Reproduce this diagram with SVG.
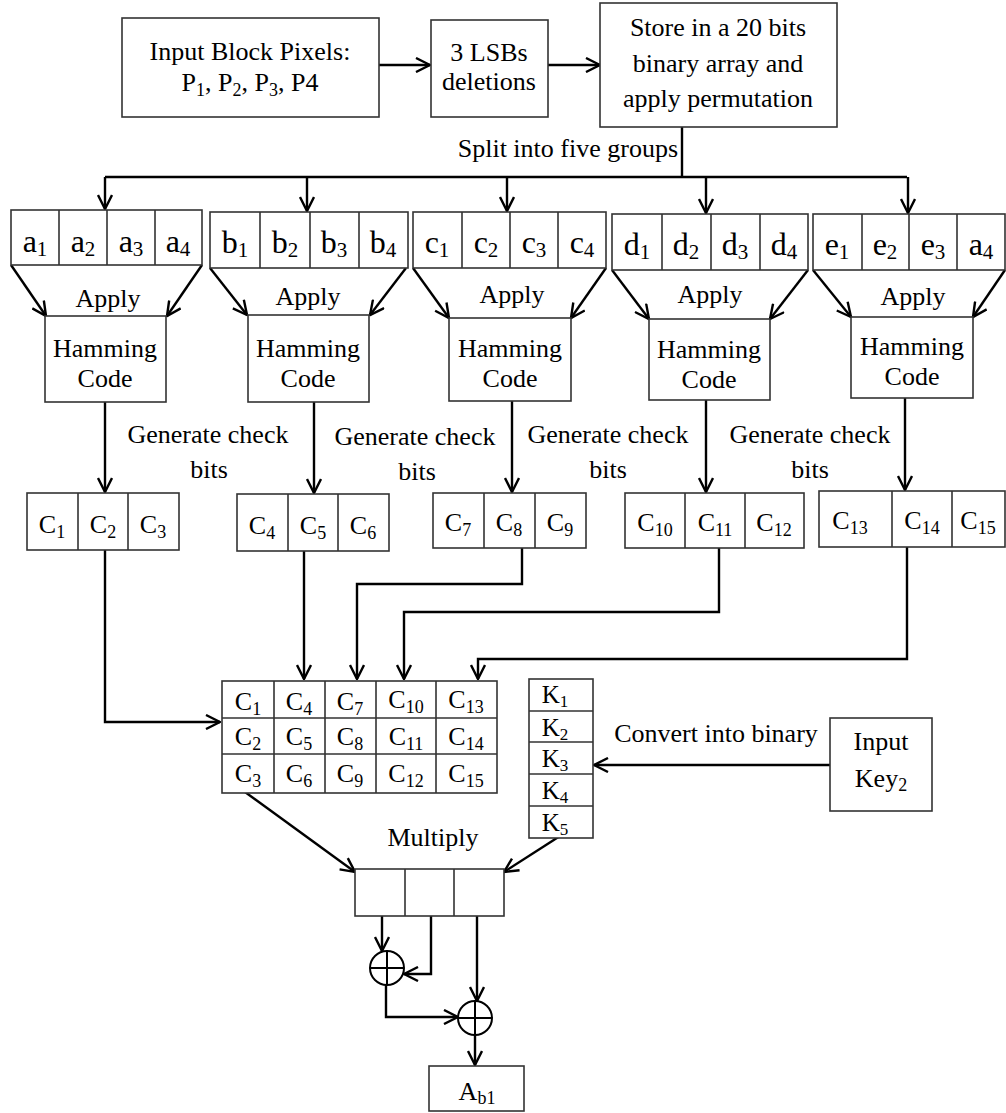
<svg xmlns="http://www.w3.org/2000/svg" width="1006" height="1113" viewBox="0 0 1006 1113">
<style>
.box{fill:#fff;stroke:#333;stroke-width:1.6}
.ln{fill:none;stroke:#000;stroke-width:2.4}
.a{marker-end:url(#ah)}
text{font-family:'Liberation Serif','Times New Roman',serif;font-size:26px;fill:#000;text-anchor:middle}
.g{font-size:32px}
.gs{font-size:21px}
.s{font-size:18px}
.k{font-size:25px}
.ks{font-size:17px}
</style>
<defs>
<marker id="ah" markerUnits="userSpaceOnUse" markerWidth="16" markerHeight="16" viewBox="0 0 16 16" refX="15" refY="8" orient="auto">
<path d="M1,1 L15,8 L1,15" fill="none" stroke="#000" stroke-width="2.4"/>
</marker>
</defs>
<rect width="1006" height="1113" fill="#fff"/>

<g id="connectors">
<path class="ln a" d="M379,65 H430"/>
<path class="ln a" d="M548,65 H600"/>
<path class="ln" d="M682,127 V177 M105,177 H907"/>
<path class="ln a" d="M105,177 V209"/>
<path class="ln a" d="M307,177 V211"/>
<path class="ln a" d="M507,177 V211"/>
<path class="ln a" d="M706,177 V213"/>
<path class="ln a" d="M908,177 V213"/>
<path class="ln a" d="M11,265 L46,316"/>
<path class="ln a" d="M202,265 L167,316"/>
<path class="ln a" d="M210,268 L247,315"/>
<path class="ln a" d="M406,268 L370,315"/>
<path class="ln a" d="M413,268 L449,318"/>
<path class="ln a" d="M606,268 L571,318"/>
<path class="ln a" d="M612,270 L649,319"/>
<path class="ln a" d="M808,270 L770,319"/>
<path class="ln a" d="M813,270 L851,317"/>
<path class="ln a" d="M1005,270 L973,317"/>
<path class="ln a" d="M105,402 V492"/>
<path class="ln a" d="M314,402 V493"/>
<path class="ln a" d="M512,401 V492"/>
<path class="ln a" d="M706,400 V492"/>
<path class="ln a" d="M905,398 V490"/>
<path class="ln a" d="M105,550 V722 H220"/>
<path class="ln a" d="M304,551 V679"/>
<path class="ln a" d="M522,548 V584 H357 V679"/>
<path class="ln a" d="M719,548 V612 H404 V679"/>
<path class="ln a" d="M907,547 V659 H478 V679"/>
<path class="ln a" d="M830,765 H594"/>
<path class="ln a" d="M245,792 L355,872"/>
<path class="ln a" d="M560,836 L504,872"/>
<path class="ln a" d="M382,916 V951"/>
<path class="ln a" d="M431,916 V974 H404"/>
<path class="ln a" d="M477,916 V1001"/>
<path class="ln a" d="M386,985 V1017 H458"/>
<path class="ln a" d="M475,1035 V1065"/>
</g>

<g id="labels">
<text x="678" y="157" style="text-anchor:end">Split into five groups</text>
<text x="108" y="307">Apply</text>
<text x="308" y="305">Apply</text>
<text x="512" y="303">Apply</text>
<text x="710" y="303">Apply</text>
<text x="913" y="305">Apply</text>
<text x="208" y="443">Generate check</text>
<text x="209" y="478">bits</text>
<text x="415" y="445">Generate check</text>
<text x="417" y="480">bits</text>
<text x="608" y="443">Generate check</text>
<text x="608" y="478">bits</text>
<text x="810" y="443">Generate check</text>
<text x="810" y="478">bits</text>
<text x="716" y="742">Convert into binary</text>
<text x="433" y="846">Multiply</text>
</g>

<g id="input-block">
<rect class="box" x="122" y="18" width="257" height="99"/>
<text x="250" y="60">Input Block Pixels:</text>
<text x="250" y="91">P<tspan class="s" dy="5">1</tspan><tspan dy="-5">, P</tspan><tspan class="s" dy="5">2</tspan><tspan dy="-5">, P</tspan><tspan class="s" dy="5">3</tspan><tspan dy="-5">, P4</tspan></text>
</g>

<g id="lsb-deletion">
<rect class="box" x="431" y="20" width="117" height="97"/>
<text x="489" y="61">3 LSBs</text>
<text x="489" y="90">deletions</text>
</g>

<g id="store-permute">
<rect class="box" x="600" y="3" width="237" height="124"/>
<text x="718" y="36">Store in a 20 bits</text>
<text x="718" y="72">binary array and</text>
<text x="718" y="107">apply permutation</text>
</g>

<g id="group-a">
<rect class="box" x="11" y="210" width="191" height="55"/>
<path class="box" d="M59,210 V265 M107,210 V265 M155,210 V265"/>
<text class="g" x="35" y="252">a<tspan class="gs" dy="4">1</tspan></text>
<text class="g" x="83" y="252">a<tspan class="gs" dy="4">2</tspan></text>
<text class="g" x="131" y="252">a<tspan class="gs" dy="4">3</tspan></text>
<text class="g" x="178" y="252">a<tspan class="gs" dy="4">4</tspan></text>
</g>
<g id="group-b">
<rect class="box" x="210" y="212" width="198" height="56"/>
<path class="box" d="M260,212 V268 M310,212 V268 M359,212 V268"/>
<text class="g" x="235" y="253">b<tspan class="gs" dy="4">1</tspan></text>
<text class="g" x="285" y="253">b<tspan class="gs" dy="4">2</tspan></text>
<text class="g" x="334" y="253">b<tspan class="gs" dy="4">3</tspan></text>
<text class="g" x="383" y="253">b<tspan class="gs" dy="4">4</tspan></text>
</g>
<g id="group-c">
<rect class="box" x="413" y="212" width="193" height="56"/>
<path class="box" d="M462,212 V268 M510,212 V268 M558,212 V268"/>
<text class="g" x="437" y="253">c<tspan class="gs" dy="4">1</tspan></text>
<text class="g" x="486" y="253">c<tspan class="gs" dy="4">2</tspan></text>
<text class="g" x="534" y="253">c<tspan class="gs" dy="4">3</tspan></text>
<text class="g" x="582" y="253">c<tspan class="gs" dy="4">4</tspan></text>
</g>
<g id="group-d">
<rect class="box" x="612" y="214" width="196" height="56"/>
<path class="box" d="M662,214 V270 M711,214 V270 M760,214 V270"/>
<text class="g" x="637" y="255">d<tspan class="gs" dy="4">1</tspan></text>
<text class="g" x="686" y="255">d<tspan class="gs" dy="4">2</tspan></text>
<text class="g" x="735" y="255">d<tspan class="gs" dy="4">3</tspan></text>
<text class="g" x="784" y="255">d<tspan class="gs" dy="4">4</tspan></text>
</g>
<g id="group-e">
<rect class="box" x="813" y="214" width="192" height="56"/>
<path class="box" d="M862,214 V270 M909,214 V270 M957,214 V270"/>
<text class="g" x="837" y="255">e<tspan class="gs" dy="4">1</tspan></text>
<text class="g" x="885" y="255">e<tspan class="gs" dy="4">2</tspan></text>
<text class="g" x="933" y="255">e<tspan class="gs" dy="4">3</tspan></text>
<text class="g" x="981" y="255">a<tspan class="gs" dy="4">4</tspan></text>
</g>

<g id="hamming-a">
<rect class="box" x="45" y="316" width="121" height="86"/>
<text x="105" y="357">Hamming</text>
<text x="105" y="387">Code</text>
</g>
<g id="hamming-b">
<rect class="box" x="248" y="315" width="121" height="87"/>
<text x="308" y="357">Hamming</text>
<text x="308" y="387">Code</text>
</g>
<g id="hamming-c">
<rect class="box" x="449" y="318" width="122" height="83"/>
<text x="510" y="357">Hamming</text>
<text x="510" y="387">Code</text>
</g>
<g id="hamming-d">
<rect class="box" x="649" y="319" width="121" height="81"/>
<text x="709" y="358">Hamming</text>
<text x="709" y="388">Code</text>
</g>
<g id="hamming-e">
<rect class="box" x="851" y="317" width="122" height="81"/>
<text x="912" y="355">Hamming</text>
<text x="912" y="385">Code</text>
</g>

<g id="check-a">
<rect class="box" x="27" y="493" width="152" height="57"/>
<path class="box" d="M78,493 V550 M128,493 V550"/>
<text x="52" y="533">C<tspan class="s" dy="5">1</tspan></text>
<text x="103" y="533">C<tspan class="s" dy="5">2</tspan></text>
<text x="153" y="533">C<tspan class="s" dy="5">3</tspan></text>
</g>
<g id="check-b">
<rect class="box" x="237" y="494" width="152" height="57"/>
<path class="box" d="M288,494 V551 M338,494 V551"/>
<text x="262" y="534">C<tspan class="s" dy="5">4</tspan></text>
<text x="313" y="534">C<tspan class="s" dy="5">5</tspan></text>
<text x="363" y="534">C<tspan class="s" dy="5">6</tspan></text>
</g>
<g id="check-c">
<rect class="box" x="433" y="493" width="153" height="55"/>
<path class="box" d="M484,493 V548 M535,493 V548"/>
<text x="458" y="531">C<tspan class="s" dy="5">7</tspan></text>
<text x="509" y="531">C<tspan class="s" dy="5">8</tspan></text>
<text x="560" y="531">C<tspan class="s" dy="5">9</tspan></text>
</g>
<g id="check-d">
<rect class="box" x="625" y="493" width="179" height="55"/>
<path class="box" d="M685,493 V548 M745,493 V548"/>
<text x="655" y="531">C<tspan class="s" dy="5">10</tspan></text>
<text x="715" y="531">C<tspan class="s" dy="5">11</tspan></text>
<text x="774" y="531">C<tspan class="s" dy="5">12</tspan></text>
</g>
<g id="check-e">
<rect class="box" x="819" y="491" width="186" height="56"/>
<path class="box" d="M892,491 V547 M952,491 V547"/>
<text x="850" y="529">C<tspan class="s" dy="5">13</tspan></text>
<text x="922" y="529">C<tspan class="s" dy="5">14</tspan></text>
<text x="978" y="529">C<tspan class="s" dy="5">15</tspan></text>
</g>

<g id="matrix">
<rect class="box" x="222" y="681" width="275" height="112"/>
<path class="box" d="M274,681 V793 M325,681 V793 M376,681 V793 M436,681 V793 M222,718 H497 M222,754 H497"/>
<text x="248" y="710">C<tspan class="s" dy="5">1</tspan></text>
<text x="299" y="710">C<tspan class="s" dy="5">4</tspan></text>
<text x="350" y="710">C<tspan class="s" dy="5">7</tspan></text>
<text x="406" y="708">C<tspan class="s" dy="5">10</tspan></text>
<text x="466" y="708">C<tspan class="s" dy="5">13</tspan></text>
<text x="248" y="745">C<tspan class="s" dy="5">2</tspan></text>
<text x="299" y="745">C<tspan class="s" dy="5">5</tspan></text>
<text x="350" y="745">C<tspan class="s" dy="5">8</tspan></text>
<text x="406" y="745">C<tspan class="s" dy="5">11</tspan></text>
<text x="466" y="745">C<tspan class="s" dy="5">14</tspan></text>
<text x="248" y="782">C<tspan class="s" dy="5">3</tspan></text>
<text x="299" y="782">C<tspan class="s" dy="5">6</tspan></text>
<text x="350" y="782">C<tspan class="s" dy="5">9</tspan></text>
<text x="406" y="782">C<tspan class="s" dy="5">12</tspan></text>
<text x="466" y="782">C<tspan class="s" dy="5">15</tspan></text>
</g>

<g id="key-bits">
<rect class="box" x="529" y="679" width="64" height="159"/>
<path class="box" d="M529,711 H593 M529,742 H593 M529,774 H593 M529,806 H593"/>
<text class="k" x="555" y="703">K<tspan class="ks" dy="4">1</tspan></text>
<text class="k" x="555" y="736">K<tspan class="ks" dy="4">2</tspan></text>
<text class="k" x="555" y="767">K<tspan class="ks" dy="4">3</tspan></text>
<text class="k" x="555" y="799">K<tspan class="ks" dy="4">4</tspan></text>
<text class="k" x="555" y="831">K<tspan class="ks" dy="4">5</tspan></text>
</g>

<g id="input-key">
<rect class="box" x="830" y="718" width="102" height="93"/>
<text x="881" y="750">Input</text>
<text x="881" y="787">Key<tspan class="s" dy="4">2</tspan></text>
</g>

<g id="multiply-result">
<rect class="box" x="355" y="869" width="149" height="47"/>
<path class="box" d="M405,869 V916 M454,869 V916"/>
</g>

<g id="xor-1">
<circle cx="387" cy="968" r="17" fill="#fff" stroke="#000" stroke-width="2"/>
<path d="M370,968 H404 M387,951 V985" stroke="#000" stroke-width="2"/>
</g>
<g id="xor-2">
<circle cx="475" cy="1018" r="17" fill="#fff" stroke="#000" stroke-width="2"/>
<path d="M458,1018 H492 M475,1001 V1035" stroke="#000" stroke-width="2"/>
</g>

<g id="output-ab1">
<rect class="box" x="429" y="1066" width="95" height="45"/>
<text x="477" y="1100">A<tspan class="s" dy="4">b1</tspan></text>
</g>
</svg>
